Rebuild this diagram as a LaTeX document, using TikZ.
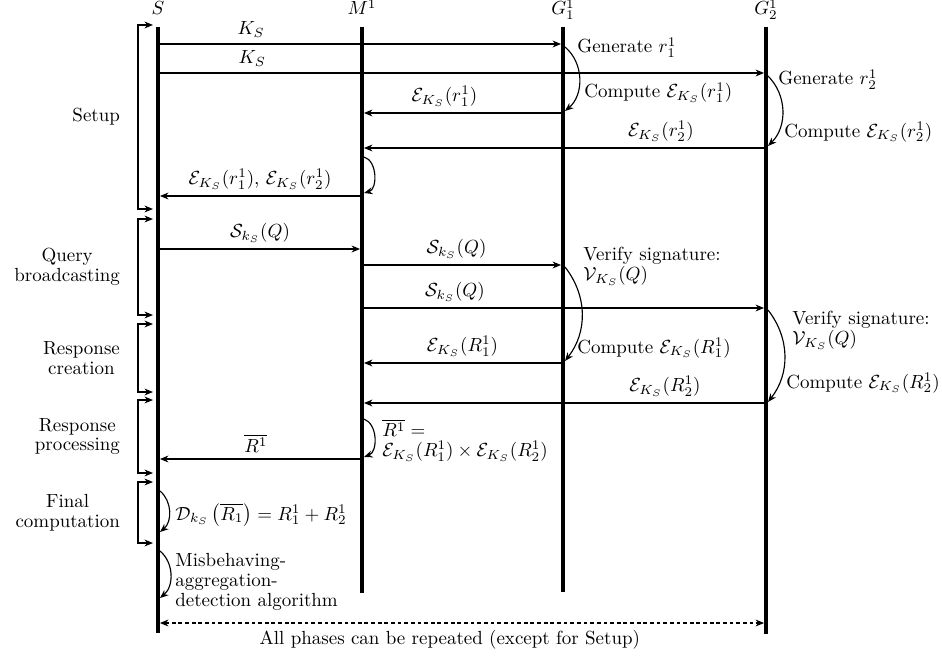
\documentclass[tikz,border=0pt]{standalone}
\usepackage{tikz}
\usetikzlibrary{positioning, arrows.meta, calc}
\usepackage{amsmath}

\begin{document}
\begin{tikzpicture}[x=0.01852cm, y=-0.01852cm,
    font=\fontsize{10}{10.5}\selectfont,
    life/.style={line width=2pt},
    msg/.style={-{Stealth[length=4.5pt,width=3.6pt]}, semithick, shorten >=1pt},
    selfmsg/.style={-{Stealth[length=4.5pt,width=3.6pt]}, semithick, bend left=50},
    phase/.style={{Stealth[length=4.5pt,width=3.6pt]}-{Stealth[length=4.5pt,width=3.6pt]}, semithick},
    note/.style={anchor=base west, inner sep=0pt},
    notes/.style={anchor=west, align=left, inner sep=0pt},
    phasetxt/.style={align=center}]
  \useasboundingbox (0,0) rectangle (942,657);

  % lifelines
  \node[anchor=base] (S) at (158,15) {$S$};
  \node[anchor=base] (M) at (362,15) {$M^1$};
  \node[anchor=base] (Ga) at (563,15) {$G_1^1$};
  \node[anchor=base] (Gb) at (766,15) {$G_2^1$};
  \foreach \n/\x/\b in {S/158/633, M/362/593, Ga/563/592, Gb/766/634} {
    \coordinate (\n-top) at (\x,27);
    \coordinate (\n-bot) at (\x,\b);
    \draw[life] (\n-top) -- (\n-bot);
  }

  % message levels
  \foreach \i/\y in {1/44, 2/73, 3/113, 4/148, 5/196, 6/249, 7/265, 8/308, 9/363, 10/403, 11/459, 12/623} {
    \coordinate (S\i) at (158,\y);
    \coordinate (M\i) at (362,\y);
    \coordinate (Ga\i) at (563,\y);
    \coordinate (Gb\i) at (766,\y);
  }

  % local computations
  \foreach \n/\x/\y in {gagen/565/47, gacmp/565/111, gbgen/768/76, gbcmp/768/146,
      mwait/364/157, msend/364/193, gaver/565/267, gares/565/361,
      gbver/768/310, gbres/768/402, mproc/364/419, mres/364/457,
      sdec/160/491, sdecb/160/532, smis/160/551, smisb/160/598} {
    \coordinate (\n) at (\x,\y);
  }

  % phases
  \foreach \n/\t/\b in {p1/25/209, p2/219/315, p3/324/392, p4/400/473, p5/482/543} {
    \coordinate (\n-t) at (153,\t);
    \coordinate (\n-b) at (153,\b);
    \coordinate (\n-m) at (138,{(\t+\b)/2});
    \draw[phase] (\n-t) -- ++(-15,0) |- (\n-b);
  }
  \node[phasetxt, left=6pt of p1-m] (setup) {Setup};
  \node[phasetxt, left=6pt of p2-m] (query) {Query\\broadcasting};
  \node[phasetxt, left=6pt of p3-m] (rcreate) {Response\\creation};
  \node[phasetxt, left=6pt of p4-m] (rproc) {Response\\processing};
  \node[phasetxt, left=6pt of p5-m] (final) {Final\\computation};

  % setup
  \draw[msg] (S1) -- node[above, pos=0.23] (k1) {$K_S$} (Ga1);
  \draw[msg] (S2) -- node[above, pos=0.155] (k2) {$K_S$} (Gb2);
  \draw[selfmsg] (gagen) to (gacmp);
  \node[note] (gen1) at (577,53) {Generate $r_1^1$};
  \node[note] (cmp1) at (584,98) {Compute $\mathcal{E}_{K_S}(r_1^1)$};
  \draw[selfmsg, bend left=45] (gbgen) to (gbcmp);
  \node[note] (gen2) at (778,85) {Generate $r_2^1$};
  \node[note] (cmp2) at (784,137) {Compute $\mathcal{E}_{K_S}(r_2^1)$};
  \draw[msg] (Ga3) -- node[above, pos=0.59] (e1) {$\mathcal{E}_{K_S}(r_1^1)$} (M3);
  \draw[msg] (Gb4) -- node[above, pos=0.26] (e2) {$\mathcal{E}_{K_S}(r_2^1)$} (M4);
  \draw[selfmsg, bend left=75] (mwait) to (msend);
  \draw[msg] (M5) -- node[above] (e12) {$\mathcal{E}_{K_S}(r_1^1)$, $\mathcal{E}_{K_S}(r_2^1)$} (S5);

  % query broadcasting
  \draw[msg] (S6) -- node[above] (q0) {$\mathcal{S}_{k_S}(Q)$} (M6);
  \draw[msg] (M7) -- node[above, pos=0.47] (q1) {$\mathcal{S}_{k_S}(Q)$} (Ga7);
  \draw[msg] (M8) -- node[above, pos=0.23] (q2) {$\mathcal{S}_{k_S}(Q)$} (Gb8);
  \draw[selfmsg, bend left=38] (gaver) to (gares);
  \node[notes] (ver1) at (583,266) {Verify signature:\\$\mathcal{V}_{K_S}(Q)$};
  \node[note] (res1) at (577,353) {Compute $\mathcal{E}_{K_S}(R_1^1)$};
  \draw[selfmsg, bend left=38] (gbver) to (gbres);
  \node[notes] (ver2) at (792,330) {Verify signature:\\$\mathcal{V}_{K_S}(Q)$};
  \node[note] (res2) at (786,388) {Compute $\mathcal{E}_{K_S}(R_2^1)$};

  % response creation
  \draw[msg] (Ga9) -- node[above] (r1) {$\mathcal{E}_{K_S}(R_1^1)$} (M9);
  \draw[msg] (Gb10) -- node[above, pos=0.25] (r2) {$\mathcal{E}_{K_S}(R_2^1)$} (M10);

  % response processing
  \draw[selfmsg, bend left=70] (mproc) to (mres);
  \node[notes] (agg) at (382,440) {$\overline{R^1} =$\\$\mathcal{E}_{K_S}(R_1^1) \times \mathcal{E}_{K_S}(R_2^1)$};
  \draw[msg] (M11) -- node[above, pos=0.52] (rbar) {$\overline{R^1}$} (S11);

  % final computation
  \draw[selfmsg] (sdec) to (sdecb);
  \node[note] (dec) at (175,520) {$\mathcal{D}_{k_S}\left(\overline{R_1}\right) = R_1^1 + R_2^1$};
  \draw[selfmsg] (smis) to (smisb);
  \node[notes] (mis) at (175,582) {Misbehaving-\\aggregation-\\detection algorithm};

  \draw[phase, dash pattern=on 2pt off 1.5pt, shorten <=1pt, shorten >=1pt] (S12) -- node[below, pos=0.48] (rep) {All phases can be repeated (except for Setup)} (Gb12);
\end{tikzpicture}
\end{document}
